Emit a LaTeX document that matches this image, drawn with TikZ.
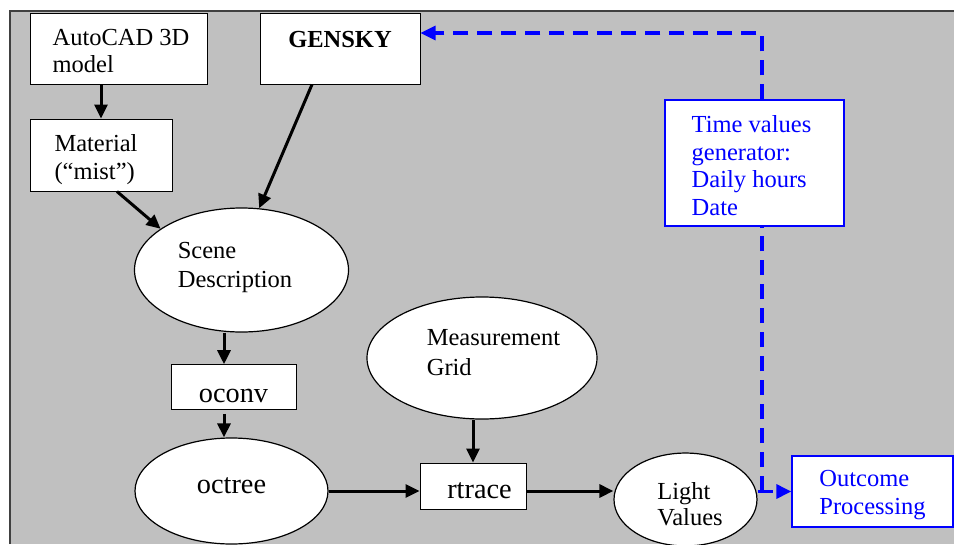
\documentclass[tikz,border=0pt]{standalone}
\usepackage{fontspec}
\setmainfont{Liberation Serif}
\usetikzlibrary{arrows.meta,calc,shapes.geometric}
\definecolor{bggray}{HTML}{C0C0C0}
\definecolor{edgegray}{HTML}{404040}
\definecolor{flowblue}{HTML}{0000FF}
% #1 height strut of first line, #2 depth strut of last line, #3 lines
\newcommand{\lns}[3]{\rule{0pt}{#1}#3\rule[-#2]{0pt}{#2}}
\tikzset{
  boxnode/.style={draw=black, line width=1pt, fill=white, align=left, inner sep=0pt,
    font=\fontsize{24.5}{27.5}\selectfont},
  ellnode/.style={draw=black, line width=1.2pt, fill=white, ellipse, align=left, inner sep=0pt,
    font=\fontsize{24.5}{27.5}\selectfont},
  bigtext/.style={font=\fontsize{28.3}{30}\selectfont},
  bluebox/.style={boxnode, draw=flowblue, line width=1.3pt, text=flowblue},
  flowarrow/.style={line width=3pt, -{Triangle[length=14pt,width=13pt]}},
  bluedash/.style={draw=flowblue, line width=3.2pt, dash pattern=on 15pt off 9pt},
  bluearrow/.style={bluedash, -{Triangle[length=15pt,width=14pt]}}
}
\begin{document}
\begin{tikzpicture}[x=1pt,y=-1pt]
\useasboundingbox (0,0) rectangle (954,544);
\fill[white] (0,0) rectangle (954,544);
\fill[bggray] (10,11) rectangle (954,544);
\draw[edgegray, line width=1.2pt] (10,544) -- (10,11) -- (954,11);

% nodes
\node[boxnode, minimum width=177pt, minimum height=71pt] (auto) at (118.5,48.5)
  {\lns{27.5pt}{7pt}{\hspace*{5pt}AutoCAD 3D\\\hspace*{5pt}model}};
\node[boxnode, minimum width=160pt, minimum height=71pt] (gensky) at (340,48.5)
  {\lns{18pt}{20.4pt}{\textbf{GENSKY}}};
\node[boxnode, minimum width=142pt, minimum height=72pt] (mat) at (101,155)
  {\lns{27.5pt}{7pt}{Material\hspace*{10pt}\\(“mist”)}};
\node[ellnode, minimum width=214pt, minimum height=124pt] (scene) at (241.5,270)
  {\lns{18pt}{12.4pt}{Scene\\[1.5pt]Description\hspace*{13pt}}};
\node[boxnode, bigtext, minimum width=125pt, minimum height=38pt] (oconv) at (233.5,387)
  {\lns{38pt}{6.6pt}{oconv}};
\node[ellnode, bigtext, minimum width=193pt, minimum height=106pt] (octree) at (231.5,491)
  {\lns{20pt}{16pt}{octree}};
\node[ellnode, minimum width=230pt, minimum height=122pt] (meas) at (482,358)
  {\lns{18pt}{13.4pt}{\hspace*{23pt}Measurement\\[2.5pt]\hspace*{23pt}Grid}};
\node[boxnode, bigtext, minimum width=106pt, minimum height=46pt] (rtrace) at (473,486)
  {\lns{31.6pt}{7pt}{\hspace*{13pt}rtrace}};
\node[ellnode, minimum width=143pt, minimum height=89pt] (light) at (685.5,499.5)
  {\lns{33pt}{7pt}{\hspace*{9pt}Light\\[-1.8pt]\hspace*{9pt}Values}};
\node[bluebox, minimum width=161pt, minimum height=71pt] (outcome) at (872.5,491.5)
  {\lns{24.7pt}{7pt}{Outcome\\Processing}};
\node[bluebox, minimum width=179pt, minimum height=126pt] (time) at (754.5,163)
  {\lns{29pt}{7pt}{Time values\hspace*{6pt}\\generator:\\Daily hours\\Date}};

% black connectors
\draw[flowarrow] (auto.south -| mat.north) -- (mat.north);
\draw[flowarrow] ([xshift=16pt]mat.south) -- (scene.153);
\draw[flowarrow] ([xshift=-28pt]gensky.south) -- (scene.74);
\coordinate (cx) at (224,0);
\draw[flowarrow] (scene.south -| cx) -- (oconv.north -| cx);
\draw[flowarrow] ([yshift=-4pt]oconv.south -| cx) -- (octree.north -| cx);
\draw[flowarrow] (octree.east) -- (octree.east -| rtrace.west);
\draw[flowarrow] (meas.south -| rtrace.north) -- (rtrace.north);
\draw[flowarrow] (octree.east -| rtrace.east) -- (octree.east -| light.west);

% blue dashed connectors
\coordinate (j) at (762,491);
\coordinate (corner) at (762,33);
\draw[bluearrow] (outcome.west -| light.east) -- (outcome.west);
\draw[bluedash] (j) -- (time.south -| j);
\draw[bluearrow] (time.north -| j) -- (corner) -- (gensky.east |- corner);
\end{tikzpicture}
\end{document}
